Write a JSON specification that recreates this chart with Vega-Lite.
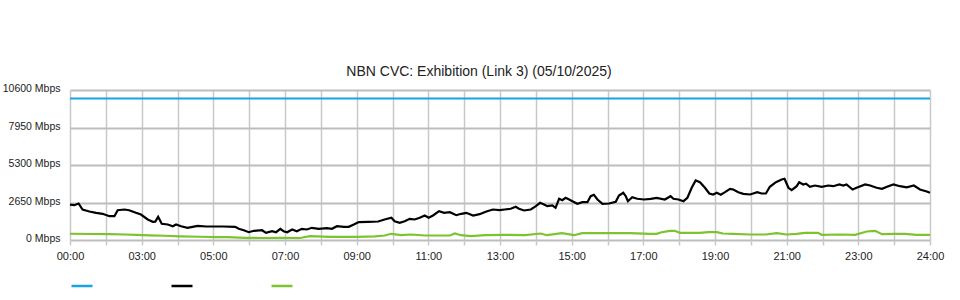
{
  "$schema": "https://vega.github.io/schema/vega-lite/v6.json",
  "autosize": "none",
  "width": 860,
  "height": 150,
  "padding": {"left": 70, "top": 90, "right": 30, "bottom": 60},
  "background": "white",
  "title": {
    "text": "NBN CVC: Exhibition (Link 3) (05/10/2025)",
    "font": "Liberation Sans",
    "fontSize": 14,
    "fontWeight": "normal",
    "color": "#222",
    "anchor": "middle",
    "dx": -21,
    "offset": 5
  },
  "data": {
    "values": [
      {"s": "Capacity", "t": 0, "v": 10000},
      {"s": "Capacity", "t": 24, "v": 10000},
      {"s": "Download", "t": 0.00, "v": 2500},
      {"s": "Download", "t": 0.12, "v": 2460},
      {"s": "Download", "t": 0.24, "v": 2580},
      {"s": "Download", "t": 0.35, "v": 2155},
      {"s": "Download", "t": 0.54, "v": 2014},
      {"s": "Download", "t": 0.73, "v": 1922},
      {"s": "Download", "t": 0.91, "v": 1850},
      {"s": "Download", "t": 1.10, "v": 1683},
      {"s": "Download", "t": 1.24, "v": 1683},
      {"s": "Download", "t": 1.33, "v": 2106},
      {"s": "Download", "t": 1.52, "v": 2155},
      {"s": "Download", "t": 1.65, "v": 2106},
      {"s": "Download", "t": 1.84, "v": 1922},
      {"s": "Download", "t": 1.98, "v": 1800},
      {"s": "Download", "t": 2.17, "v": 1449},
      {"s": "Download", "t": 2.31, "v": 1286},
      {"s": "Download", "t": 2.38, "v": 1300},
      {"s": "Download", "t": 2.46, "v": 1640},
      {"s": "Download", "t": 2.56, "v": 1145},
      {"s": "Download", "t": 2.73, "v": 1095},
      {"s": "Download", "t": 2.87, "v": 975},
      {"s": "Download", "t": 2.96, "v": 1095},
      {"s": "Download", "t": 3.10, "v": 975},
      {"s": "Download", "t": 3.28, "v": 862},
      {"s": "Download", "t": 3.42, "v": 933},
      {"s": "Download", "t": 3.56, "v": 1003},
      {"s": "Download", "t": 3.80, "v": 954},
      {"s": "Download", "t": 3.98, "v": 954},
      {"s": "Download", "t": 4.27, "v": 954},
      {"s": "Download", "t": 4.61, "v": 933},
      {"s": "Download", "t": 4.71, "v": 790},
      {"s": "Download", "t": 4.85, "v": 692},
      {"s": "Download", "t": 4.99, "v": 551},
      {"s": "Download", "t": 5.13, "v": 650},
      {"s": "Download", "t": 5.36, "v": 692},
      {"s": "Download", "t": 5.47, "v": 509},
      {"s": "Download", "t": 5.64, "v": 622},
      {"s": "Download", "t": 5.75, "v": 551},
      {"s": "Download", "t": 5.87, "v": 790},
      {"s": "Download", "t": 5.96, "v": 622},
      {"s": "Download", "t": 6.06, "v": 551},
      {"s": "Download", "t": 6.20, "v": 742},
      {"s": "Download", "t": 6.33, "v": 622},
      {"s": "Download", "t": 6.47, "v": 790},
      {"s": "Download", "t": 6.61, "v": 742},
      {"s": "Download", "t": 6.75, "v": 862},
      {"s": "Download", "t": 6.94, "v": 790},
      {"s": "Download", "t": 7.17, "v": 834},
      {"s": "Download", "t": 7.31, "v": 790},
      {"s": "Download", "t": 7.45, "v": 975},
      {"s": "Download", "t": 7.64, "v": 933},
      {"s": "Download", "t": 7.78, "v": 933},
      {"s": "Download", "t": 7.92, "v": 1095},
      {"s": "Download", "t": 8.06, "v": 1270},
      {"s": "Download", "t": 8.32, "v": 1286},
      {"s": "Download", "t": 8.60, "v": 1307},
      {"s": "Download", "t": 8.78, "v": 1449},
      {"s": "Download", "t": 8.97, "v": 1569},
      {"s": "Download", "t": 9.06, "v": 1329},
      {"s": "Download", "t": 9.20, "v": 1215},
      {"s": "Download", "t": 9.34, "v": 1329},
      {"s": "Download", "t": 9.48, "v": 1498},
      {"s": "Download", "t": 9.62, "v": 1449},
      {"s": "Download", "t": 9.76, "v": 1569},
      {"s": "Download", "t": 9.90, "v": 1731},
      {"s": "Download", "t": 10.01, "v": 1569},
      {"s": "Download", "t": 10.13, "v": 1731},
      {"s": "Download", "t": 10.30, "v": 2035},
      {"s": "Download", "t": 10.44, "v": 1922},
      {"s": "Download", "t": 10.60, "v": 1965},
      {"s": "Download", "t": 10.78, "v": 1753},
      {"s": "Download", "t": 10.92, "v": 1851},
      {"s": "Download", "t": 11.06, "v": 1922},
      {"s": "Download", "t": 11.25, "v": 1731},
      {"s": "Download", "t": 11.43, "v": 1823},
      {"s": "Download", "t": 11.62, "v": 2014},
      {"s": "Download", "t": 11.80, "v": 2155},
      {"s": "Download", "t": 11.99, "v": 2106},
      {"s": "Download", "t": 12.13, "v": 2155},
      {"s": "Download", "t": 12.30, "v": 2205},
      {"s": "Download", "t": 12.44, "v": 2346},
      {"s": "Download", "t": 12.53, "v": 2205},
      {"s": "Download", "t": 12.67, "v": 2085},
      {"s": "Download", "t": 12.86, "v": 2155},
      {"s": "Download", "t": 13.00, "v": 2389},
      {"s": "Download", "t": 13.12, "v": 2629},
      {"s": "Download", "t": 13.23, "v": 2509},
      {"s": "Download", "t": 13.32, "v": 2389},
      {"s": "Download", "t": 13.46, "v": 2440},
      {"s": "Download", "t": 13.55, "v": 2276},
      {"s": "Download", "t": 13.65, "v": 2912},
      {"s": "Download", "t": 13.74, "v": 2813},
      {"s": "Download", "t": 13.83, "v": 2982},
      {"s": "Download", "t": 13.93, "v": 2862},
      {"s": "Download", "t": 14.02, "v": 2742},
      {"s": "Download", "t": 14.16, "v": 2558},
      {"s": "Download", "t": 14.30, "v": 2671},
      {"s": "Download", "t": 14.44, "v": 2671},
      {"s": "Download", "t": 14.53, "v": 3095},
      {"s": "Download", "t": 14.62, "v": 3194},
      {"s": "Download", "t": 14.72, "v": 2862},
      {"s": "Download", "t": 14.86, "v": 2558},
      {"s": "Download", "t": 15.04, "v": 2580},
      {"s": "Download", "t": 15.23, "v": 2700},
      {"s": "Download", "t": 15.32, "v": 3145},
      {"s": "Download", "t": 15.44, "v": 3335},
      {"s": "Download", "t": 15.51, "v": 3095},
      {"s": "Download", "t": 15.57, "v": 2742},
      {"s": "Download", "t": 15.69, "v": 3025},
      {"s": "Download", "t": 15.83, "v": 2912},
      {"s": "Download", "t": 16.02, "v": 2862},
      {"s": "Download", "t": 16.21, "v": 2912},
      {"s": "Download", "t": 16.37, "v": 2982},
      {"s": "Download", "t": 16.60, "v": 2862},
      {"s": "Download", "t": 16.76, "v": 3095},
      {"s": "Download", "t": 16.84, "v": 2912},
      {"s": "Download", "t": 16.98, "v": 2862},
      {"s": "Download", "t": 17.12, "v": 2742},
      {"s": "Download", "t": 17.23, "v": 2982},
      {"s": "Download", "t": 17.35, "v": 3689},
      {"s": "Download", "t": 17.46, "v": 4205},
      {"s": "Download", "t": 17.58, "v": 4085},
      {"s": "Download", "t": 17.72, "v": 3689},
      {"s": "Download", "t": 17.84, "v": 3286},
      {"s": "Download", "t": 17.95, "v": 3215},
      {"s": "Download", "t": 18.05, "v": 3335},
      {"s": "Download", "t": 18.16, "v": 3194},
      {"s": "Download", "t": 18.28, "v": 3378},
      {"s": "Download", "t": 18.42, "v": 3618},
      {"s": "Download", "t": 18.51, "v": 3569},
      {"s": "Download", "t": 18.65, "v": 3378},
      {"s": "Download", "t": 18.79, "v": 3265},
      {"s": "Download", "t": 18.98, "v": 3215},
      {"s": "Download", "t": 19.18, "v": 3378},
      {"s": "Download", "t": 19.30, "v": 3286},
      {"s": "Download", "t": 19.42, "v": 3286},
      {"s": "Download", "t": 19.53, "v": 3760},
      {"s": "Download", "t": 19.70, "v": 4085},
      {"s": "Download", "t": 19.86, "v": 4275},
      {"s": "Download", "t": 19.94, "v": 4325},
      {"s": "Download", "t": 20.05, "v": 3689},
      {"s": "Download", "t": 20.14, "v": 3519},
      {"s": "Download", "t": 20.28, "v": 3802},
      {"s": "Download", "t": 20.35, "v": 4085},
      {"s": "Download", "t": 20.46, "v": 3922},
      {"s": "Download", "t": 20.54, "v": 3980},
      {"s": "Download", "t": 20.65, "v": 3760},
      {"s": "Download", "t": 20.79, "v": 3851},
      {"s": "Download", "t": 20.98, "v": 3760},
      {"s": "Download", "t": 21.16, "v": 3851},
      {"s": "Download", "t": 21.30, "v": 3802},
      {"s": "Download", "t": 21.47, "v": 3922},
      {"s": "Download", "t": 21.58, "v": 3851},
      {"s": "Download", "t": 21.67, "v": 3922},
      {"s": "Download", "t": 21.84, "v": 3569},
      {"s": "Download", "t": 21.95, "v": 3689},
      {"s": "Download", "t": 22.19, "v": 3922},
      {"s": "Download", "t": 22.33, "v": 3851},
      {"s": "Download", "t": 22.51, "v": 3689},
      {"s": "Download", "t": 22.66, "v": 3618},
      {"s": "Download", "t": 22.80, "v": 3760},
      {"s": "Download", "t": 22.98, "v": 3922},
      {"s": "Download", "t": 23.16, "v": 3802},
      {"s": "Download", "t": 23.35, "v": 3720},
      {"s": "Download", "t": 23.55, "v": 3851},
      {"s": "Download", "t": 23.72, "v": 3569},
      {"s": "Download", "t": 23.91, "v": 3427},
      {"s": "Download", "t": 24.00, "v": 3335},
      {"s": "Upload", "t": 0.00, "v": 440},
      {"s": "Upload", "t": 1.12, "v": 410},
      {"s": "Upload", "t": 1.53, "v": 389},
      {"s": "Upload", "t": 1.84, "v": 360},
      {"s": "Upload", "t": 2.23, "v": 330},
      {"s": "Upload", "t": 2.65, "v": 300},
      {"s": "Upload", "t": 3.07, "v": 260},
      {"s": "Upload", "t": 3.63, "v": 230},
      {"s": "Upload", "t": 4.05, "v": 200},
      {"s": "Upload", "t": 4.41, "v": 200},
      {"s": "Upload", "t": 4.88, "v": 155},
      {"s": "Upload", "t": 5.36, "v": 140},
      {"s": "Upload", "t": 5.86, "v": 150},
      {"s": "Upload", "t": 6.42, "v": 140},
      {"s": "Upload", "t": 6.70, "v": 269},
      {"s": "Upload", "t": 7.26, "v": 226},
      {"s": "Upload", "t": 8.04, "v": 226},
      {"s": "Upload", "t": 8.51, "v": 260},
      {"s": "Upload", "t": 8.78, "v": 318},
      {"s": "Upload", "t": 8.97, "v": 438},
      {"s": "Upload", "t": 9.24, "v": 339},
      {"s": "Upload", "t": 9.52, "v": 389},
      {"s": "Upload", "t": 9.91, "v": 318},
      {"s": "Upload", "t": 10.60, "v": 318},
      {"s": "Upload", "t": 10.74, "v": 459},
      {"s": "Upload", "t": 10.91, "v": 339},
      {"s": "Upload", "t": 11.19, "v": 269},
      {"s": "Upload", "t": 11.58, "v": 339},
      {"s": "Upload", "t": 12.14, "v": 368},
      {"s": "Upload", "t": 12.70, "v": 339},
      {"s": "Upload", "t": 13.14, "v": 459},
      {"s": "Upload", "t": 13.31, "v": 339},
      {"s": "Upload", "t": 13.73, "v": 480},
      {"s": "Upload", "t": 14.07, "v": 339},
      {"s": "Upload", "t": 14.29, "v": 480},
      {"s": "Upload", "t": 14.79, "v": 480},
      {"s": "Upload", "t": 15.63, "v": 480},
      {"s": "Upload", "t": 16.19, "v": 438},
      {"s": "Upload", "t": 16.37, "v": 438},
      {"s": "Upload", "t": 16.51, "v": 551},
      {"s": "Upload", "t": 16.74, "v": 650},
      {"s": "Upload", "t": 16.88, "v": 650},
      {"s": "Upload", "t": 17.02, "v": 509},
      {"s": "Upload", "t": 17.58, "v": 509},
      {"s": "Upload", "t": 17.81, "v": 551},
      {"s": "Upload", "t": 18.05, "v": 551},
      {"s": "Upload", "t": 18.22, "v": 459},
      {"s": "Upload", "t": 18.50, "v": 438},
      {"s": "Upload", "t": 18.98, "v": 389},
      {"s": "Upload", "t": 19.42, "v": 389},
      {"s": "Upload", "t": 19.72, "v": 480},
      {"s": "Upload", "t": 20.00, "v": 389},
      {"s": "Upload", "t": 20.28, "v": 438},
      {"s": "Upload", "t": 20.51, "v": 509},
      {"s": "Upload", "t": 20.87, "v": 509},
      {"s": "Upload", "t": 20.98, "v": 368},
      {"s": "Upload", "t": 21.49, "v": 389},
      {"s": "Upload", "t": 21.91, "v": 368},
      {"s": "Upload", "t": 22.23, "v": 600},
      {"s": "Upload", "t": 22.47, "v": 650},
      {"s": "Upload", "t": 22.66, "v": 410},
      {"s": "Upload", "t": 23.02, "v": 438},
      {"s": "Upload", "t": 23.30, "v": 438},
      {"s": "Upload", "t": 23.63, "v": 368},
      {"s": "Upload", "t": 24.00, "v": 368}
    ]
  },
  "mark": {"type": "line", "strokeWidth": 2.2, "interpolate": "linear"},
  "encoding": {
    "x": {
      "field": "t",
      "type": "quantitative",
      "scale": {"domain": [0, 24], "nice": false, "zero": false},
      "axis": {
        "title": null,
        "values": [0,1,2,3,4,5,6,7,8,9,10,11,12,13,14,15,16,17,18,19,20,21,22,23,24],
        "labelExpr": "datum.value % 2 == 1 ? '' : (datum.value == 0 ? '00:00' : (datum.value == 24 ? '24:00' : ((datum.value + 1) < 10 ? '0' : '') + (datum.value + 1) + ':00'))",
        "labelOverlap": false,
        "labelFlush": false,
        "grid": true,
        "gridColor": "#c8c8c8",
        "gridWidth": 1.5,
        "domain": false,
        "ticks": true,
        "tickColor": "#c8c8c8",
        "tickWidth": 1.5,
        "tickSize": 5,
        "labelPadding": 5,
        "labelFont": "Liberation Sans",
        "labelFontSize": 11,
        "labelColor": "#222"
      }
    },
    "y": {
      "field": "v",
      "type": "quantitative",
      "scale": {"domain": [0, 10600], "nice": false},
      "axis": {
        "title": null,
        "values": [0, 2650, 5300, 7950, 10600],
        "labelExpr": "datum.value + ' Mbps'",
        "grid": true,
        "gridColor": "#bdbdbd",
        "gridWidth": 2,
        "domain": false,
        "ticks": false,
        "labelPadding": 10,
        "labelOffset": -1.5,
        "labelFont": "Liberation Sans",
        "labelFontSize": 10.5,
        "labelColor": "#222"
      }
    },
    "color": {
      "field": "s",
      "type": "nominal",
      "scale": {"domain": ["Capacity", "Download", "Upload"], "range": ["#1aa3e3", "#000000", "#7dc22f"]},
      "legend": {
        "title": null,
        "orient": "none",
        "legendX": 0,
        "legendY": 184,
        "direction": "horizontal",
        "columns": 3,
        "columnPadding": 68,
        "padding": 0,
        "symbolType": "stroke",
        "symbolSize": 441,
        "symbolStrokeWidth": 2.5,
        "labelExpr": "''",
        "labelOffset": 0,
        "labelFontSize": 1
      }
    }
  },
  "config": {
    "view": {"stroke": null},
    "font": "Liberation Sans"
  }
}
